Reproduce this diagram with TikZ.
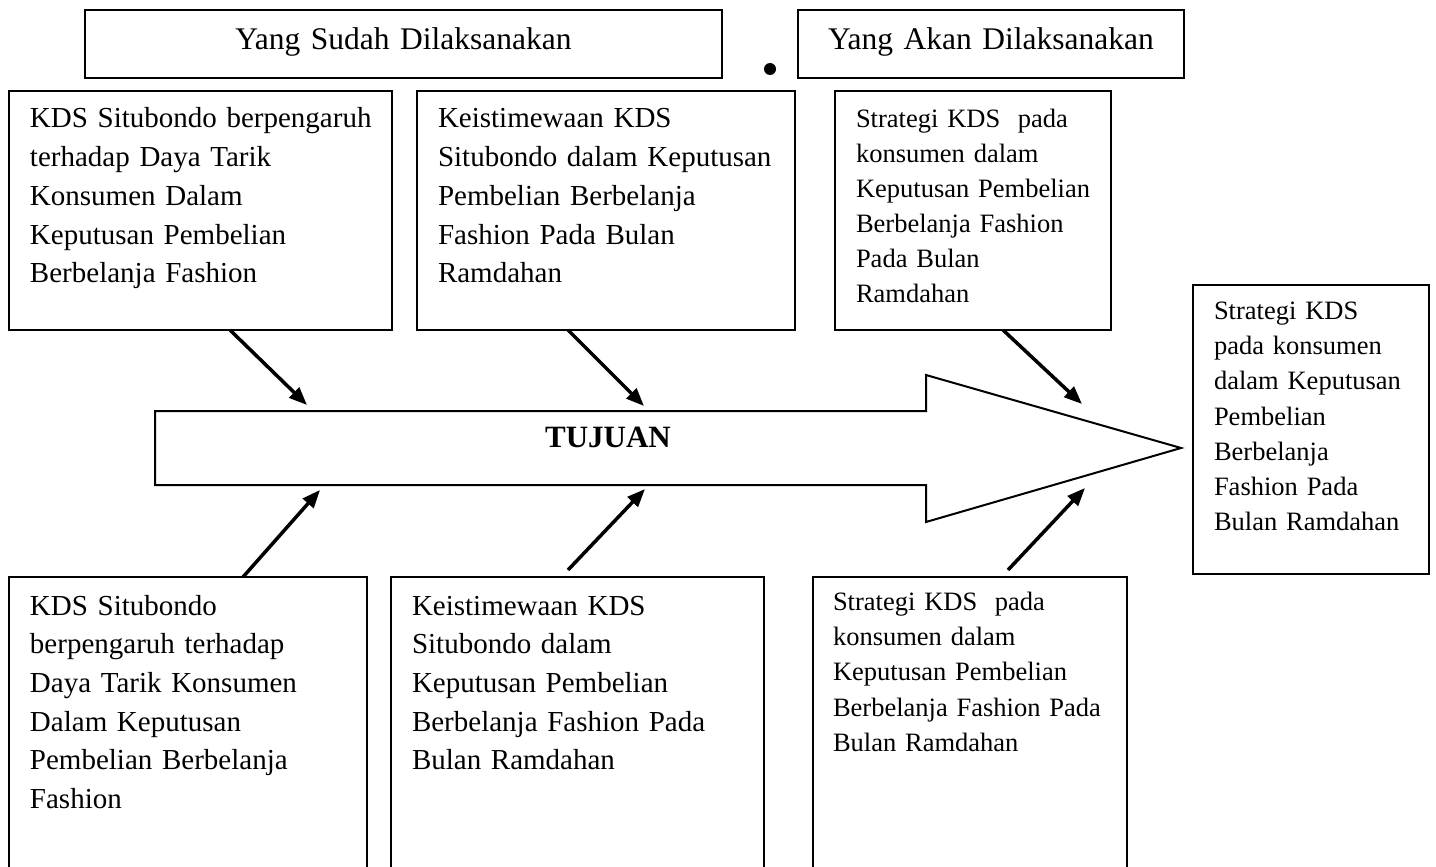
\documentclass[tikz,border=0pt]{standalone}
\usepackage{fontspec}
\setmainfont{Liberation Serif}
\usetikzlibrary{arrows.meta,positioning}

\begin{document}
\begin{tikzpicture}[x=1pt, y=-1pt, >={Triangle[length=18pt,width=14pt]},
	kotak/.style={draw, line width=1.8pt, outer sep=0pt, anchor=north west, align=left, inner sep=0pt},
	isi/.style={execute at begin node={\leftskip=#1\relax\hyphenpenalty=10000\relax}},
	isi/.default=21pt,
	besar/.style={isi, font=\fontsize{29}{38.7}\selectfont},
	kecil/.style={isi, font=\fontsize{26.5}{35.2}\selectfont},
	judul/.style={font=\fontsize{31.5}{38}\selectfont, align=center},
	panah/.style={->, line width=3.5pt}]
	%\draw[help lines, yellow] (0,0)grid[step=50](1436,867);
	\useasboundingbox (0,0) rectangle (1436,867);
	\clip (0,0) rectangle (1436,867);
	% We start by placing the blocks
	\node [kotak, judul, text width=637pt, text height=40pt, text depth=28pt] (sudah) at (85,10) {Yang Sudah Dilaksanakan};
	\node [kotak, judul, text width=386pt, text height=40pt, text depth=28pt, right=76pt of sudah.north east, anchor=north west] (akan) {Yang Akan Dilaksanakan};
	\node [circle, fill=black, inner sep=0pt, minimum size=12pt] (titik) at (770,69) {};
	\node [kotak, besar, text width=383pt, text height=37pt, text depth=202pt] (kds1) at (9,91) {KDS Situbondo berpengaruh\\ terhadap Daya Tarik\\ Konsumen Dalam\\ Keputusan Pembelian\\ Berbelanja Fashion};
	\node [kotak, besar, text width=378pt, text height=37pt, text depth=202pt, right=25pt of kds1.north east, anchor=north west] (istimewa1) {Keistimewaan KDS\\ Situbondo dalam Keputusan\\ Pembelian Berbelanja\\ Fashion Pada Bulan\\ Ramdahan};
	\node [kotak, kecil, text width=276pt, text height=36pt, text depth=203pt, right=40pt of istimewa1.north east, anchor=north west] (strategi1) {Strategi KDS\ \ pada\\ konsumen dalam\\ Keputusan Pembelian\\ Berbelanja Fashion\\ Pada Bulan\\ Ramdahan};
	\node [kotak, kecil, text width=236pt, text height=34.5pt, text depth=254.5pt] (hasil) at (1193,285) {Strategi KDS\\ pada konsumen\\ dalam Keputusan\\ Pembelian\\ Berbelanja\\ Fashion Pada\\ Bulan Ramdahan};
	\node [kotak, besar, text width=358pt, text height=38pt, text depth=262pt] (kds2) at (9,577) {KDS Situbondo\\ berpengaruh terhadap\\ Daya Tarik Konsumen\\ Dalam Keputusan\\ Pembelian Berbelanja\\ Fashion};
	\node [kotak, besar, text width=373pt, text height=38pt, text depth=262pt, right=24pt of kds2.north east, anchor=north west] (istimewa2) {Keistimewaan KDS\\ Situbondo dalam\\ Keputusan Pembelian\\ Berbelanja Fashion Pada\\ Bulan Ramdahan};
	\node [kotak, kecil, isi=20pt, text width=314pt, text height=33.5pt, text depth=266.5pt, right=49pt of istimewa2.north east, anchor=north west] (strategi2) {Strategi KDS\ \ pada\\ konsumen dalam\\ Keputusan Pembelian\\ Berbelanja Fashion Pada\\ Bulan Ramdahan};
	% The big arrow in the middle
	\draw [line width=2pt] (155,411) -- (926,411) -- (926,375) -- (1181,448) -- (926,522) -- (926,485) -- (155,485) -- cycle;
	\node [font=\fontsize{31}{37}\selectfont\bfseries, anchor=base] (tujuan) at (608,447) {TUJUAN};
	\coordinate (ujung1) at (307,405);
	\coordinate (ujung2) at (644,406);
	\coordinate (ujung3) at (1082,404);
	\coordinate (ujung4) at (320,490);
	\coordinate (ujung5) at (645,489);
	\coordinate (ujung6) at (1085,488);
	% Once the nodes are placed, connecting them is easy.
	\draw [panah] ([xshift=221pt]kds1.south west) -- (ujung1);
	\draw [panah] ([xshift=151pt]istimewa1.south west) -- (ujung2);
	\draw [panah] ([xshift=168pt]strategi1.south west) -- (ujung3);
	\draw [panah] ([xshift=234pt]kds2.north west) -- (ujung4);
	\draw [panah] ([xshift=177pt,yshift=7pt]istimewa2.north west) -- (ujung5);
	\draw [panah] ([xshift=195pt,yshift=7pt]strategi2.north west) -- (ujung6);
\end{tikzpicture}
\end{document}
